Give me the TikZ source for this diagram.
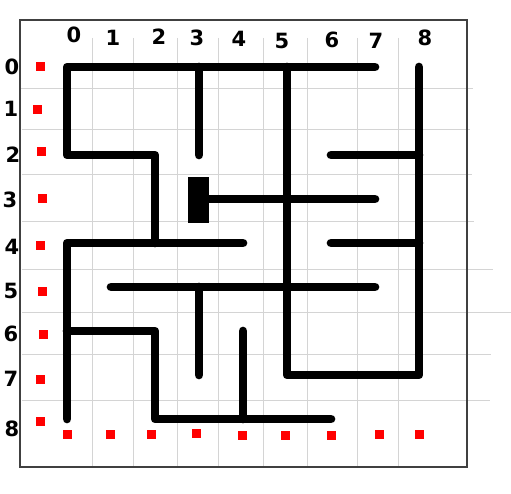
\documentclass[tikz,border=0pt]{standalone}
\usepackage{fontspec}
\setmainfont{DejaVu Sans}
\begin{document}
\begin{tikzpicture}[x=1pt,y=-1pt,
  gridline/.style={draw=black!17,line width=1pt},
  frameline/.style={draw=black!75,line width=1.6pt},
  wall/.style={draw=black,line width=8.7pt,line cap=round,line join=round},
  marker/.style={fill=red,draw=none,minimum size=9pt,inner sep=0pt},
  lbl/.style={font=\fontsize{21}{21}\selectfont\bfseries,inner sep=0pt,text=black}]
\useasboundingbox (0,0) rectangle (511,494);
% grid
\foreach \gx in {92,133,177,218,263,307,357,398}
  \draw[gridline] (\gx,38) -- (\gx,467);
\foreach \gy/\gr/\gl in {89/473/20,130/470/22,175/472/22,222/474/22,270/493/22,312/511/22,354/491/22,400/490/22}
  \draw[gridline] (\gl,\gy) -- (\gr,\gy);
% frame
\draw[frameline] (20,20) rectangle (467,467);
% labels top
\foreach \t/\lx/\ly in {0/74/35,1/113/38,2/159/37,3/197/38,4/239/39,5/282/41,6/332/40,7/376/41,8/425/38}
  \node[lbl] (top\t) at (\lx,\ly) {\t};
% labels left
\foreach \t/\lx/\ly in {0/12/67,1/11/109,2/13/155,3/10/200,4/12/247,5/11/291,6/11/334,7/11/379,8/12/429}
  \node[lbl] (left\t) at (\lx,\ly) {\t};
% walls
\draw[wall] (375,67) -- (67,67) -- (67,155) -- (155,155) -- (155,243);
\draw[wall] (199,67) -- (199,155);
\draw[wall] (419,67) -- (419,375) -- (287,375) -- (287,67);
\draw[wall] (331,155) -- (419,155);
\draw[wall] (331,243) -- (419,243);
\fill[black] (188,177) rectangle (209,223);
\draw[wall] (209,199) -- (375,199);
\draw[wall] (67,419) -- (67,243) -- (243,243);
\draw[wall] (111,287) -- (375,287);
\draw[wall] (199,287) -- (199,375);
\draw[wall] (67,331) -- (155,331) -- (155,419) -- (331,419);
\draw[wall] (243,331) -- (243,419);
% red markers
\foreach \mx/\my [count=\i] in {40/67,37/110,41/152,42/199,40/246,42/291,43/334,40/379,40/421,
  67/434,110/434,151/434,196/433,242/435,285/435,331/435,379/434,419/434}
  \node[marker] (m\i) at (\mx,\my) {};
\end{tikzpicture}
\end{document}
